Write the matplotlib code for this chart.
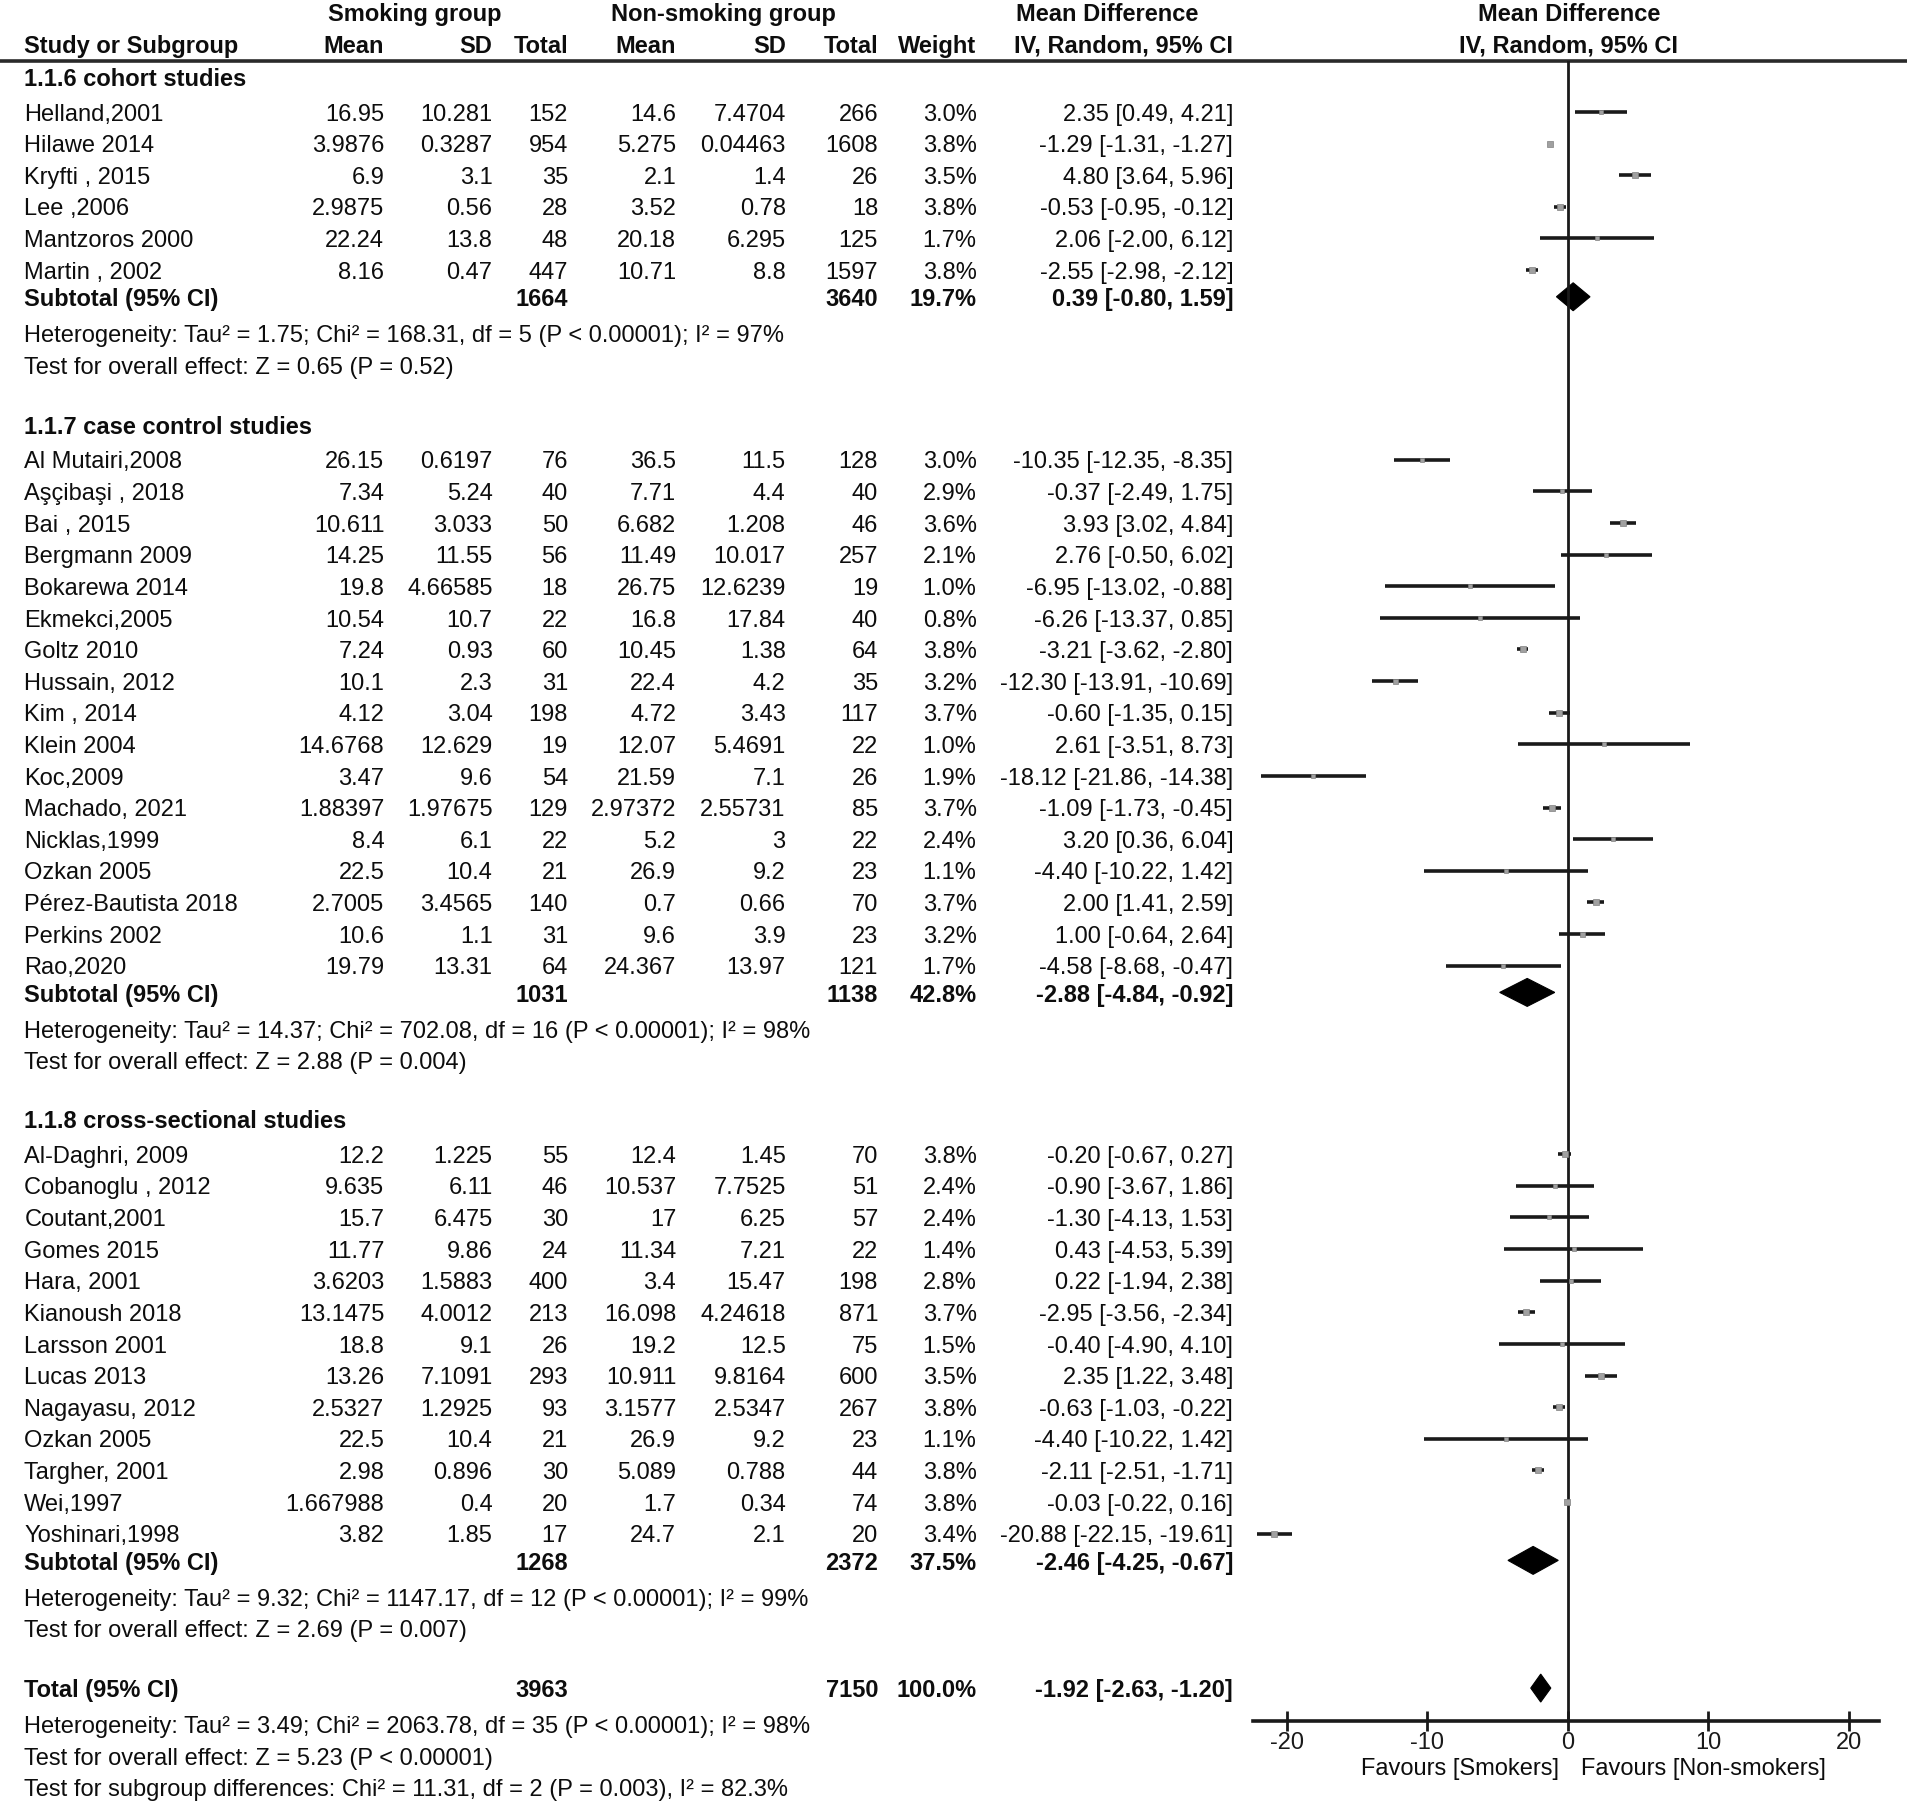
import matplotlib
matplotlib.use('Agg')
import matplotlib.pyplot as plt
from matplotlib.patches import Polygon

plt.rcParams['font.family'] = ['Liberation Sans Narrow', 'Liberation Sans', 'DejaVu Sans']
plt.rcParams['axes.unicode_minus'] = False

# ---------------- data ----------------
cohort_names = ["Helland,2001", "Hilawe 2014", "Kryfti , 2015", "Lee ,2006", "Mantzoros 2000", "Martin , 2002"]
cohort_smk_mean = [16.95, 3.9876, 6.9, 2.9875, 22.24, 8.16]
cohort_smk_sd = [10.281, 0.3287, 3.1, 0.56, 13.8, 0.47]
cohort_smk_n = [152, 954, 35, 28, 48, 447]
cohort_non_mean = [14.6, 5.275, 2.1, 3.52, 20.18, 10.71]
cohort_non_sd = [7.4704, 0.04463, 1.4, 0.78, 6.295, 8.8]
cohort_non_n = [266, 1608, 26, 18, 125, 1597]
cohort_weight = [3.0, 3.8, 3.5, 3.8, 1.7, 3.8]
cohort_md = [2.35, -1.29, 4.80, -0.53, 2.06, -2.55]
cohort_lo = [0.49, -1.31, 3.64, -0.95, -2.00, -2.98]
cohort_hi = [4.21, -1.27, 5.96, -0.12, 6.12, -2.12]
cohort_sub = (1664, 3640, 19.7, 0.39, -0.80, 1.59)
cohort_het = "Heterogeneity: Tau² = 1.75; Chi² = 168.31, df = 5 (P < 0.00001); I² = 97%"
cohort_test = "Test for overall effect: Z = 0.65 (P = 0.52)"

cc_names = ["Al Mutairi,2008", "Aşçibaşi , 2018", "Bai , 2015", "Bergmann 2009", "Bokarewa 2014",
            "Ekmekci,2005", "Goltz 2010", "Hussain, 2012", "Kim , 2014", "Klein 2004", "Koc,2009",
            "Machado, 2021", "Nicklas,1999", "Ozkan 2005", "Pérez-Bautista 2018", "Perkins 2002", "Rao,2020"]
cc_smk_mean = [26.15, 7.34, 10.611, 14.25, 19.8, 10.54, 7.24, 10.1, 4.12, 14.6768, 3.47, 1.88397, 8.4, 22.5, 2.7005, 10.6, 19.79]
cc_smk_sd = [0.6197, 5.24, 3.033, 11.55, 4.66585, 10.7, 0.93, 2.3, 3.04, 12.629, 9.6, 1.97675, 6.1, 10.4, 3.4565, 1.1, 13.31]
cc_smk_n = [76, 40, 50, 56, 18, 22, 60, 31, 198, 19, 54, 129, 22, 21, 140, 31, 64]
cc_non_mean = [36.5, 7.71, 6.682, 11.49, 26.75, 16.8, 10.45, 22.4, 4.72, 12.07, 21.59, 2.97372, 5.2, 26.9, 0.7, 9.6, 24.367]
cc_non_sd = [11.5, 4.4, 1.208, 10.017, 12.6239, 17.84, 1.38, 4.2, 3.43, 5.4691, 7.1, 2.55731, 3, 9.2, 0.66, 3.9, 13.97]
cc_non_n = [128, 40, 46, 257, 19, 40, 64, 35, 117, 22, 26, 85, 22, 23, 70, 23, 121]
cc_weight = [3.0, 2.9, 3.6, 2.1, 1.0, 0.8, 3.8, 3.2, 3.7, 1.0, 1.9, 3.7, 2.4, 1.1, 3.7, 3.2, 1.7]
cc_md = [-10.35, -0.37, 3.93, 2.76, -6.95, -6.26, -3.21, -12.30, -0.60, 2.61, -18.12, -1.09, 3.20, -4.40, 2.00, 1.00, -4.58]
cc_lo = [-12.35, -2.49, 3.02, -0.50, -13.02, -13.37, -3.62, -13.91, -1.35, -3.51, -21.86, -1.73, 0.36, -10.22, 1.41, -0.64, -8.68]
cc_hi = [-8.35, 1.75, 4.84, 6.02, -0.88, 0.85, -2.80, -10.69, 0.15, 8.73, -14.38, -0.45, 6.04, 1.42, 2.59, 2.64, -0.47]
cc_sub = (1031, 1138, 42.8, -2.88, -4.84, -0.92)
cc_het = "Heterogeneity: Tau² = 14.37; Chi² = 702.08, df = 16 (P < 0.00001); I² = 98%"
cc_test = "Test for overall effect: Z = 2.88 (P = 0.004)"

cs_names = ["Al-Daghri, 2009", "Cobanoglu , 2012", "Coutant,2001", "Gomes 2015", "Hara, 2001", "Kianoush 2018",
            "Larsson 2001", "Lucas 2013", "Nagayasu, 2012", "Ozkan 2005", "Targher, 2001", "Wei,1997", "Yoshinari,1998"]
cs_smk_mean = [12.2, 9.635, 15.7, 11.77, 3.6203, 13.1475, 18.8, 13.26, 2.5327, 22.5, 2.98, 1.667988, 3.82]
cs_smk_sd = [1.225, 6.11, 6.475, 9.86, 1.5883, 4.0012, 9.1, 7.1091, 1.2925, 10.4, 0.896, 0.4, 1.85]
cs_smk_n = [55, 46, 30, 24, 400, 213, 26, 293, 93, 21, 30, 20, 17]
cs_non_mean = [12.4, 10.537, 17, 11.34, 3.4, 16.098, 19.2, 10.911, 3.1577, 26.9, 5.089, 1.7, 24.7]
cs_non_sd = [1.45, 7.7525, 6.25, 7.21, 15.47, 4.24618, 12.5, 9.8164, 2.5347, 9.2, 0.788, 0.34, 2.1]
cs_non_n = [70, 51, 57, 22, 198, 871, 75, 600, 267, 23, 44, 74, 20]
cs_weight = [3.8, 2.4, 2.4, 1.4, 2.8, 3.7, 1.5, 3.5, 3.8, 1.1, 3.8, 3.8, 3.4]
cs_md = [-0.20, -0.90, -1.30, 0.43, 0.22, -2.95, -0.40, 2.35, -0.63, -4.40, -2.11, -0.03, -20.88]
cs_lo = [-0.67, -3.67, -4.13, -4.53, -1.94, -3.56, -4.90, 1.22, -1.03, -10.22, -2.51, -0.22, -22.15]
cs_hi = [0.27, 1.86, 1.53, 5.39, 2.38, -2.34, 4.10, 3.48, -0.22, 1.42, -1.71, 0.16, -19.61]
cs_sub = (1268, 2372, 37.5, -2.46, -4.25, -0.67)
cs_het = "Heterogeneity: Tau² = 9.32; Chi² = 1147.17, df = 12 (P < 0.00001); I² = 99%"
cs_test = "Test for overall effect: Z = 2.69 (P = 0.007)"

group_titles = ["1.1.6 cohort studies", "1.1.7 case control studies", "1.1.8 cross-sectional studies"]

total_row = (3963, 7150, 100.0, -1.92, -2.63, -1.20)
total_het = "Heterogeneity: Tau² = 3.49; Chi² = 2063.78, df = 35 (P < 0.00001); I² = 98%"
total_test = "Test for overall effect: Z = 5.23 (P < 0.00001)"
subgroup_test = "Test for subgroup differences: Chi² = 11.31, df = 2 (P = 0.003), I² = 82.3%"

xticks = [-20, -10, 0, 10, 20]
fav_left = "Favours [Smokers]"
fav_right = "Favours [Non-smokers]"

groups = [
    (cohort_names, cohort_smk_mean, cohort_smk_sd, cohort_smk_n, cohort_non_mean, cohort_non_sd, cohort_non_n,
     cohort_weight, cohort_md, cohort_lo, cohort_hi, cohort_sub, cohort_het, cohort_test),
    (cc_names, cc_smk_mean, cc_smk_sd, cc_smk_n, cc_non_mean, cc_non_sd, cc_non_n,
     cc_weight, cc_md, cc_lo, cc_hi, cc_sub, cc_het, cc_test),
    (cs_names, cs_smk_mean, cs_smk_sd, cs_smk_n, cs_non_mean, cs_non_sd, cs_non_n,
     cs_weight, cs_md, cs_lo, cs_hi, cs_sub, cs_het, cs_test),
]

# ---------------- layout ----------------
W, H = 1907, 1802
S = W / 1568.0          # layout units -> pixels
FS = 17
TXT = '#0d0d0d'
DY = 2.2                # text vertical nudge (layout units)

def num(v):
    s = repr(v)
    return s[:-2] if s.endswith('.0') else s

def mdtxt(m, l, h):
    return f"{m:.2f} [{l:.2f}, {h:.2f}]"

fig = plt.figure(figsize=(W / 100, H / 100), dpi=100)
tx = fig.add_axes([0, 0, 1, 1])
tx.set_xlim(0, W)
tx.set_ylim(H, 0)
tx.axis('off')

def T(x, y, s, ha='left', bold=False):
    tx.text(x * S, (y + DY) * S, s, ha=ha, va='center', fontsize=FS,
            fontweight='bold' if bold else 'normal', color=TXT)

X_NAME, X_SM, X_SSD, X_SN, X_NM, X_NSD, X_NN, X_WT, X_MD = 20, 316, 405, 467, 556, 646, 722, 803, 1014

# headers
T(341, 10, "Smoking group", ha='center', bold=True)
T(595, 10, "Non-smoking group", ha='center', bold=True)
T(910, 10, "Mean Difference", ha='center', bold=True)
T(1290, 10, "Mean Difference", ha='center', bold=True)
T(X_NAME, 36, "Study or Subgroup", bold=True)
T(X_SM, 36, "Mean", ha='right', bold=True)
T(X_SSD, 36, "SD", ha='right', bold=True)
T(X_SN, 36, "Total", ha='right', bold=True)
T(X_NM, 36, "Mean", ha='right', bold=True)
T(X_NSD, 36, "SD", ha='right', bold=True)
T(X_NN, 36, "Total", ha='right', bold=True)
T(X_WT, 36, "Weight", ha='right', bold=True)
T(X_MD, 36, "IV, Random, 95% CI", ha='right', bold=True)
T(1290, 36, "IV, Random, 95% CI", ha='center', bold=True)
tx.plot([0, W], [50 * S, 50 * S], color='#2a2a2a', lw=2.6, solid_capstyle='butt')

# forest axes
X0, X1, Y0, Y1 = 1030, 1545, 50, 1415
ZERO, PPU = 1289, 11.55
ax = fig.add_axes([X0 * S / W, 1 - Y1 * S / H, (X1 - X0) * S / W, (Y1 - Y0) * S / H])
ax.set_xlim((X0 - ZERO) / PPU, (X1 - ZERO) / PPU)
ax.set_ylim(Y1, Y0)
ax.patch.set_alpha(0)
for sp in ['top', 'left', 'right']:
    ax.spines[sp].set_visible(False)
ax.spines['bottom'].set_linewidth(2.6)
ax.spines['bottom'].set_color('#1a1a1a')
ax.set_yticks([])
ax.set_xticks(xticks)
ax.set_xticklabels([str(t) for t in xticks])
ax.tick_params(axis='x', direction='inout', length=14, width=2, labelsize=FS, pad=1, colors='#1a1a1a')
ax.axvline(0, color='#1a1a1a', lw=2)

DH = 11.5
def diamond(y, m, l, h):
    ax.add_patch(Polygon([(l, y), (m, y - DH), (h, y), (m, y + DH)], closed=True,
                         facecolor='black', edgecolor='black', lw=0.8))

group_start = [63, 349, 920]
for gi, g in enumerate(groups):
    (names, sm, ssd, sn, nm, nsd, nn, wt, md, lo, hi, sub, het, test) = g
    y = group_start[gi]
    T(X_NAME, y, group_titles[gi], bold=True)
    y += 29
    for i in range(len(names)):
        T(X_NAME, y, names[i])
        T(X_SM, y, num(sm[i]), ha='right')
        T(X_SSD, y, num(ssd[i]), ha='right')
        T(X_SN, y, num(sn[i]), ha='right')
        T(X_NM, y, num(nm[i]), ha='right')
        T(X_NSD, y, num(nsd[i]), ha='right')
        T(X_NN, y, num(nn[i]), ha='right')
        T(X_WT, y, f"{wt[i]:.1f}%", ha='right')
        T(X_MD, y, mdtxt(md[i], lo[i], hi[i]), ha='right')
        ax.hlines(y, lo[i], hi[i], color='#1a1a1a', lw=2.6, clip_on=False)
        ax.plot([md[i]], [y], marker='s', ms=2.0 + 0.5 * wt[i], color='#a0a0a0',
                mec='#808080', mew=0.5, clip_on=False)
        y += 26
    y -= 4
    T(X_NAME, y, "Subtotal (95% CI)", bold=True)
    T(X_SN, y, str(sub[0]), ha='right', bold=True)
    T(X_NN, y, str(sub[1]), ha='right', bold=True)
    T(X_WT, y, f"{sub[2]:.1f}%", ha='right', bold=True)
    T(X_MD, y, mdtxt(sub[3], sub[4], sub[5]), ha='right', bold=True)
    diamond(y, sub[3], sub[4], sub[5])
    y += 30
    T(X_NAME, y, het)
    y += 26
    T(X_NAME, y, test)

# total
yT = 1388
T(X_NAME, yT, "Total (95% CI)", bold=True)
T(X_SN, yT, str(total_row[0]), ha='right', bold=True)
T(X_NN, yT, str(total_row[1]), ha='right', bold=True)
T(X_WT, yT, f"{total_row[2]:.1f}%", ha='right', bold=True)
T(X_MD, yT, mdtxt(total_row[3], total_row[4], total_row[5]), ha='right', bold=True)
diamond(yT, total_row[3], total_row[4], total_row[5])
T(X_NAME, 1418, total_het)
T(X_NAME, 1444, total_test)
T(X_NAME, 1470, subgroup_test)

T(1282, 1452, fav_left, ha='right')
T(1300, 1452, fav_right, ha='left')

fig.savefig('out.png', dpi=100)
